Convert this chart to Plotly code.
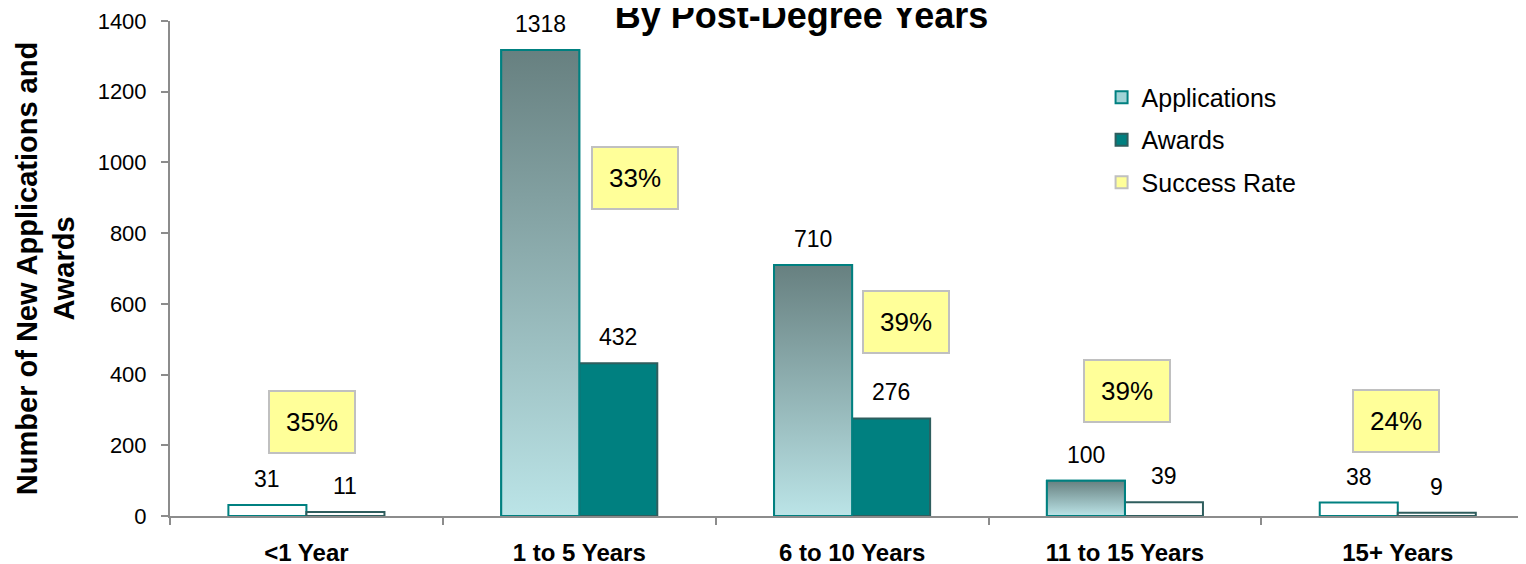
import plotly.graph_objects as go

# ---------------- data ----------------
categories = ["<1 Year", "1 to 5 Years", "6 to 10 Years", "11 to 15 Years", "15+ Years"]
applications = [31, 1318, 710, 100, 38]
awards = [11, 432, 276, 39, 9]
success_rate = [35, 33, 39, 39, 24]          # percent, shown in yellow boxes
y_ticks = [0, 200, 400, 600, 800, 1000, 1200, 1400]

# ---------------- styles / layout constants ----------------
FONT = "Liberation Sans, Arial, sans-serif"
BAR_W = 0.286
AXIS_GRAY = "#8C8C8C"
TEAL = "#008080"
AW_LINE = "#2F5E5E"
GRAD = [[0, "#BBE4E7"], [1, "#678080"]]
app_style = ["white", "gradient", "gradient", "gradient", "white"]
aw_style = ["#FFFFFF", TEAL, TEAL, "#FFFFFF", "#FFFFFF"]
# placement of the success-rate boxes (category offset, axis value of centre)
box_dx = [0.02, 0.205, 0.198, 0.009, -0.005]
box_y = [266, 956, 549, 354, 269]

pos = list(range(len(categories)))
fig = go.Figure()

app_colors = ["#FFFFFF" if s == "white" else "#A0D3D6" for s in app_style]
fig.add_trace(go.Bar(x=pos, y=applications, width=BAR_W, offset=-BAR_W,
                     marker=dict(color=app_colors, line=dict(color=TEAL, width=2)),
                     showlegend=False, name="Applications"))
fig.add_trace(go.Bar(x=pos, y=awards, width=BAR_W, offset=0,
                     marker=dict(color=aw_style, line=dict(color=AW_LINE, width=2)),
                     showlegend=False, name="Awards"))

# gradient fill for the application bars
for p, v, s in zip(pos, applications, app_style):
    if s != "gradient":
        continue
    fig.add_trace(go.Scatter(
        x=[p - BAR_W, p - BAR_W, p, p, p - BAR_W], y=[0, v, v, 0, 0],
        mode="lines", fill="toself",
        fillgradient=dict(type="vertical", colorscale=GRAD),
        line=dict(color=TEAL, width=2), hoverinfo="skip", showlegend=False))

# legend entries
fig.add_trace(go.Bar(x=[None], y=[None], name="Applications", legendgroup="a",
                     marker=dict(color="#A0D3D6", line=dict(color=TEAL, width=2))))
fig.add_trace(go.Bar(x=[None], y=[None], name="Awards", legendgroup="b",
                     marker=dict(color=TEAL, line=dict(color=AW_LINE, width=2))))
fig.add_trace(go.Bar(x=[None], y=[None], name="Success Rate", legendgroup="c",
                     marker=dict(color="#FFFF99", line=dict(color="#C0C0C0", width=2))))

annotations = []
for p, a, w in zip(pos, applications, awards):
    annotations.append(dict(x=p - BAR_W / 2, y=a, text=str(a), showarrow=False,
                            xref="x", yref="y", yanchor="bottom", yshift=11,
                            font=dict(family=FONT, size=23, color="#000000")))
    annotations.append(dict(x=p + BAR_W / 2, y=w, text=str(w), showarrow=False,
                            xref="x", yref="y", yanchor="bottom", yshift=11,
                            font=dict(family=FONT, size=23, color="#000000")))
for p, r, dx, by in zip(pos, success_rate, box_dx, box_y):
    annotations.append(dict(x=p + dx, y=by, text=f"{r}%", showarrow=False,
                            xref="x", yref="y", xanchor="center", yanchor="middle",
                            width=84, height=60, bgcolor="#FFFF99",
                            bordercolor="#C0C0C0", borderwidth=2, borderpad=0,
                            font=dict(family=FONT, size=26, color="#000000")))

fig.update_layout(
    width=1526, height=564,
    margin=dict(l=162, r=8, t=13, b=56),
    paper_bgcolor="white", plot_bgcolor="white",
    barmode="overlay",
    font=dict(family=FONT, color="#000000"),
    title=dict(text="By Post-Degree Years", x=0.52, xanchor="center",
               y=0.987, yanchor="middle", yref="container",
               font=dict(family=FONT, size=36, weight="bold", color="#000000")),
    legend=dict(x=0.687, y=0.892, xanchor="left", yanchor="top",
                font=dict(family=FONT, size=25, color="#000000"),
                tracegroupgap=7, bgcolor="rgba(0,0,0,0)"),
    annotations=annotations,
    xaxis=dict(range=[-0.5, 4.47], tickmode="array", tickvals=pos, ticktext=categories,
               ticks="", showline=True, linecolor=AXIS_GRAY, linewidth=2,
               showgrid=False, zeroline=False, ticklabelstandoff=14, automargin=False,
               tickfont=dict(family=FONT, size=24, weight="bold", color="#000000"),
               minor=dict(tickmode="array", tickvals=[-0.5, 0.5, 1.5, 2.5, 3.5, 4.5],
                          ticks="outside", ticklen=7, tickwidth=2, tickcolor=AXIS_GRAY,
                          showgrid=False)),
    yaxis=dict(range=[0, 1400], tickmode="array", tickvals=y_ticks,
               ticks="outside", ticklen=7, tickwidth=2, tickcolor=AXIS_GRAY,
               showline=True, linecolor=AXIS_GRAY, linewidth=2,
               showgrid=False, zeroline=False, ticklabelstandoff=10, automargin=False,
               tickfont=dict(family=FONT, size=22, color="#000000"),
               title=dict(text="Number of New Applications and<br>Awards", standoff=14,
                          font=dict(family=FONT, size=29, weight="bold", color="#000000"))),
)

fig.write_html("out.html")
